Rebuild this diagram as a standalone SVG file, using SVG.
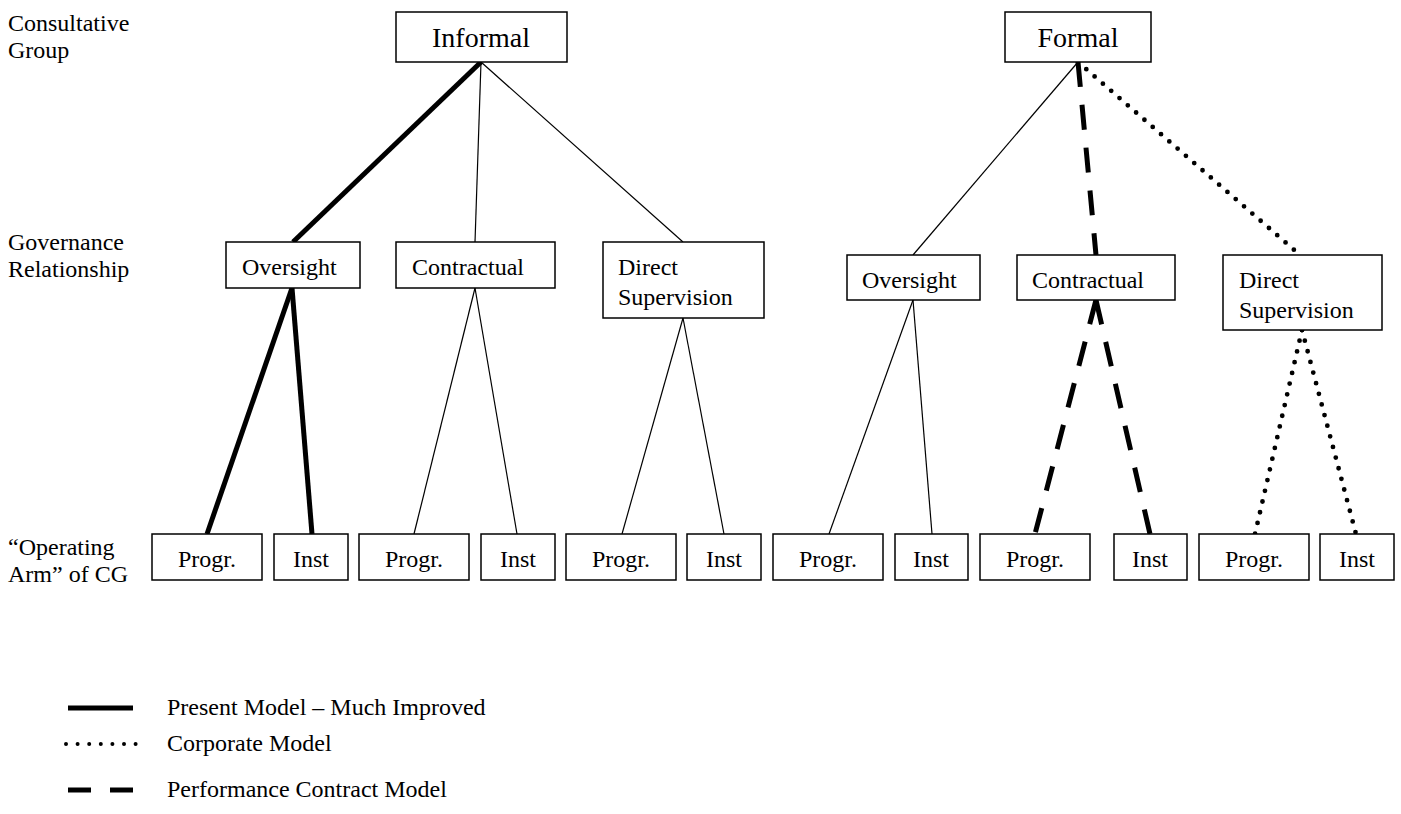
<svg xmlns="http://www.w3.org/2000/svg" width="1401" height="814" viewBox="0 0 1401 814">
<style>
text{font-family:"Liberation Serif","Times New Roman",serif;fill:#000}
.lbl{font-size:24px}
.big{font-size:28px}
.nd{font-size:24px}
.box{fill:#fff;stroke:#000;stroke-width:1.5}
.thin{stroke:#000;stroke-width:1.2;fill:none}
.thick{stroke:#000;stroke-width:5;fill:none}
.dash{stroke:#000;stroke-width:5;fill:none;stroke-dasharray:25 18}
.dot{stroke:#000;stroke-width:4.8;fill:none;stroke-dasharray:0 11;stroke-linecap:round}
</style>
<rect width="1401" height="814" fill="#fff"/>
<g id="row-labels">
<text class="lbl" x="8" y="31">Consultative</text>
<text class="lbl" x="8" y="58">Group</text>
<text class="lbl" x="8" y="250">Governance</text>
<text class="lbl" x="8" y="277">Relationship</text>
<text class="lbl" x="8" y="555">“Operating</text>
<text class="lbl" x="8" y="582">Arm” of CG</text>
</g>
<g id="connectors">
<line class="thick" x1="481" y1="62" x2="293" y2="242"/>
<line class="thin" x1="481" y1="62" x2="475" y2="242"/>
<line class="thin" x1="481" y1="62" x2="683" y2="242"/>
<line class="thick" x1="292" y1="288" x2="207" y2="534"/>
<line class="thick" x1="292" y1="288" x2="312" y2="534"/>
<line class="thin" x1="475" y1="288" x2="414" y2="534"/>
<line class="thin" x1="475" y1="288" x2="517" y2="534"/>
<line class="thin" x1="683" y1="318" x2="622" y2="534"/>
<line class="thin" x1="683" y1="318" x2="724" y2="534"/>
<line class="thin" x1="1078" y1="62" x2="913" y2="255"/>
<line class="dash" x1="1078" y1="62" x2="1096" y2="255"/>
<line class="dot" x1="1078" y1="62" x2="1300" y2="255"/>
<line class="thin" x1="913" y1="300" x2="829" y2="534"/>
<line class="thin" x1="913" y1="300" x2="932" y2="534"/>
<line class="dash" x1="1096" y1="300" x2="1035" y2="534"/>
<line class="dash" x1="1096" y1="300" x2="1150" y2="534"/>
<line class="dot" x1="1302" y1="330" x2="1255" y2="534"/>
<line class="dot" x1="1302" y1="330" x2="1356" y2="534"/>
</g>
<g id="informal"><rect class="box" x="396" y="12" width="171" height="50"/><text class="big" x="481" y="47" text-anchor="middle">Informal</text></g>
<g id="formal"><rect class="box" x="1005" y="12" width="146" height="50"/><text class="big" x="1078" y="47" text-anchor="middle">Formal</text></g>
<g id="i-oversight"><rect class="box" x="226" y="242" width="134" height="46"/><text class="nd" x="242" y="275">Oversight</text></g>
<g id="i-contractual"><rect class="box" x="396" y="242" width="159" height="46"/><text class="nd" x="412" y="275">Contractual</text></g>
<g id="i-direct"><rect class="box" x="603" y="242" width="161" height="76"/><text class="nd" x="618" y="275">Direct</text><text class="nd" x="618" y="305">Supervision</text></g>
<g id="f-oversight"><rect class="box" x="847" y="255" width="133" height="45"/><text class="nd" x="862" y="288">Oversight</text></g>
<g id="f-contractual"><rect class="box" x="1017" y="255" width="158" height="45"/><text class="nd" x="1032" y="288">Contractual</text></g>
<g id="f-direct"><rect class="box" x="1223" y="255" width="159" height="75"/><text class="nd" x="1239" y="288">Direct</text><text class="nd" x="1239" y="318">Supervision</text></g>
<g id="p1"><rect class="box" x="152" y="534" width="110" height="46"/><text class="nd" x="207" y="567" text-anchor="middle">Progr.</text></g>
<g id="n1"><rect class="box" x="274" y="534" width="74" height="46"/><text class="nd" x="311" y="567" text-anchor="middle">Inst</text></g>
<g id="p2"><rect class="box" x="359" y="534" width="110" height="46"/><text class="nd" x="414" y="567" text-anchor="middle">Progr.</text></g>
<g id="n2"><rect class="box" x="481" y="534" width="74" height="46"/><text class="nd" x="518" y="567" text-anchor="middle">Inst</text></g>
<g id="p3"><rect class="box" x="566" y="534" width="110" height="46"/><text class="nd" x="621" y="567" text-anchor="middle">Progr.</text></g>
<g id="n3"><rect class="box" x="687" y="534" width="74" height="46"/><text class="nd" x="724" y="567" text-anchor="middle">Inst</text></g>
<g id="p4"><rect class="box" x="773" y="534" width="110" height="46"/><text class="nd" x="828" y="567" text-anchor="middle">Progr.</text></g>
<g id="n4"><rect class="box" x="895" y="534" width="73" height="46"/><text class="nd" x="931" y="567" text-anchor="middle">Inst</text></g>
<g id="p5"><rect class="box" x="980" y="534" width="110" height="46"/><text class="nd" x="1035" y="567" text-anchor="middle">Progr.</text></g>
<g id="n5"><rect class="box" x="1114" y="534" width="73" height="46"/><text class="nd" x="1150" y="567" text-anchor="middle">Inst</text></g>
<g id="p6"><rect class="box" x="1199" y="534" width="110" height="46"/><text class="nd" x="1254" y="567" text-anchor="middle">Progr.</text></g>
<g id="n6"><rect class="box" x="1320" y="534" width="74" height="46"/><text class="nd" x="1357" y="567" text-anchor="middle">Inst</text></g>
<g id="legend">
<line class="thick" x1="68" y1="708" x2="133" y2="708"/>
<text class="lbl" x="167" y="715">Present Model – Much Improved</text>
<line class="dot" x1="66" y1="744" x2="136" y2="744" style="stroke-dasharray:0 11.6;stroke-width:4"/>
<text class="lbl" x="167" y="751">Corporate Model</text>
<line class="thick" x1="68" y1="790" x2="91" y2="790"/>
<line class="thick" x1="110" y1="790" x2="133" y2="790"/>
<text class="lbl" x="167" y="797">Performance Contract Model</text>
</g>
</svg>
